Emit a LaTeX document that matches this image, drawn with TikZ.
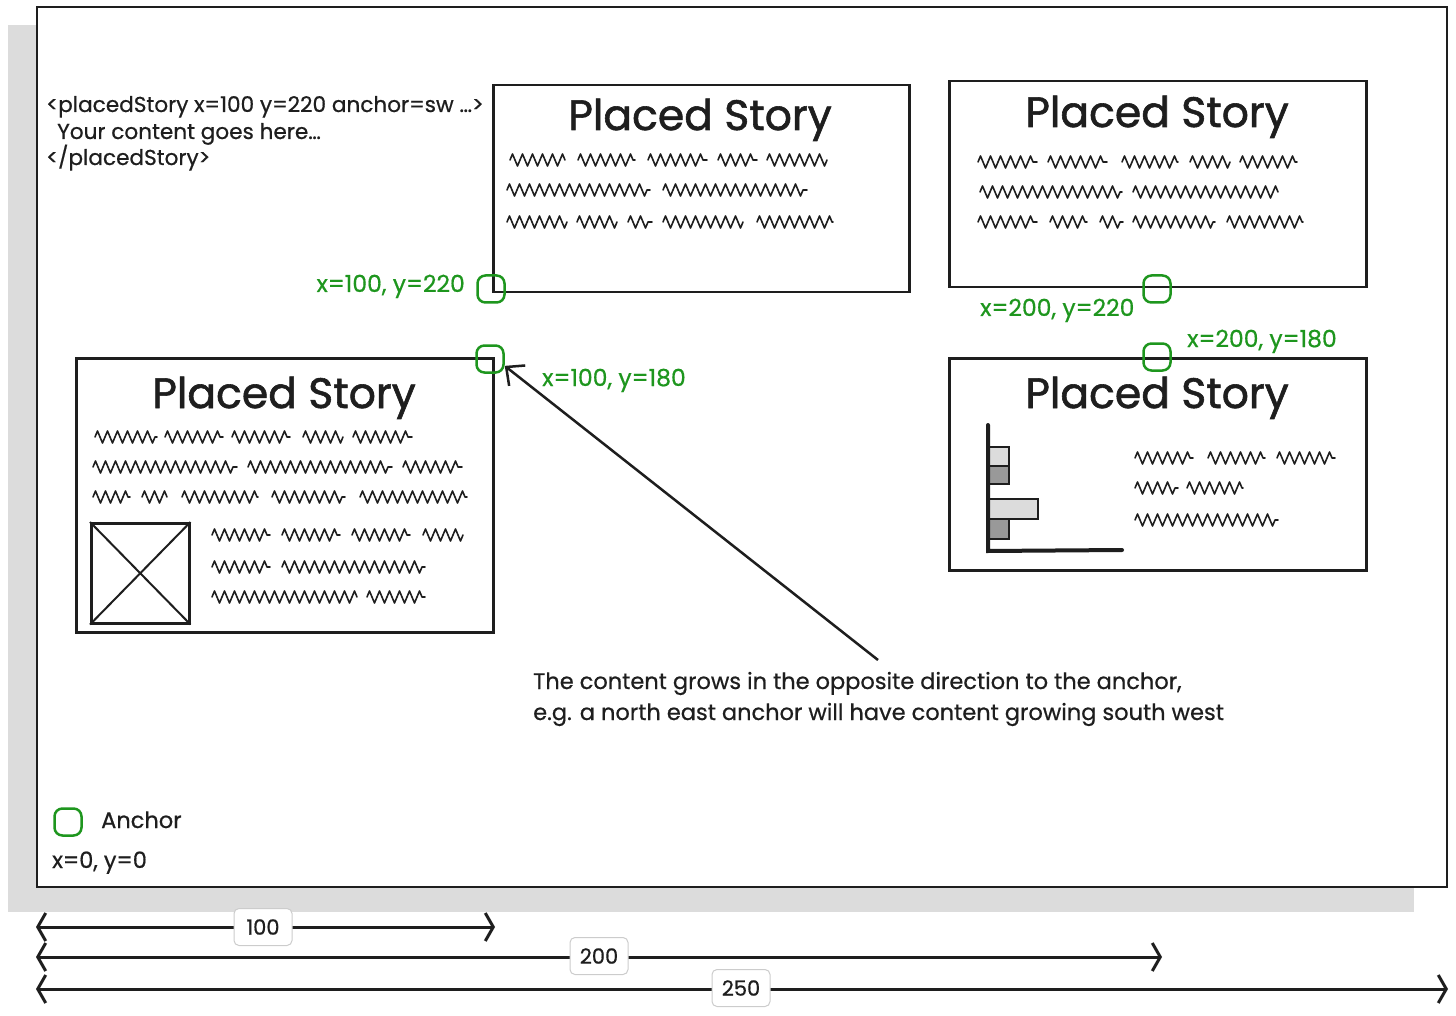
\documentclass[tikz,border=0pt]{standalone}
\usepackage{fontspec}
\setmainfont{Poppins}[FakeBold=0.6]
\newfontfamily\titlefont{Poppins}[FakeBold=1.4]
\usetikzlibrary{arrows.meta,decorations.pathmorphing}
\definecolor{ink}{HTML}{1E1E1E}
\definecolor{agreen}{RGB}{30,150,30}
\definecolor{shadowgray}{HTML}{DCDCDC}
\definecolor{lbar}{HTML}{DCDCDC}
\definecolor{dbar}{HTML}{999999}
\definecolor{lblborder}{HTML}{CCCCCC}
\begin{document}
\begin{tikzpicture}[x=1pt,y=-1pt,
  frame/.style={draw=ink, line width=2.2pt, fill=white, inner sep=0pt},
  story/.style={draw=ink, line width=2.5pt, fill=white, inner sep=0pt, anchor=north west},
  anch/.style={draw=agreen, line width=2.5pt, rounded corners=8pt, minimum width=27pt, minimum height=27pt, inner sep=0pt},
  glabel/.style={text=agreen, font=\fontsize{23.5}{27}\selectfont, inner sep=0pt},
  title/.style={text=ink, font=\titlefont\fontsize{42.5}{48}\selectfont, inner sep=0pt, anchor=base},
  body/.style={text=ink, font=\fontsize{22.5}{26}\selectfont, inner sep=0pt, anchor=base west},
  code/.style={text=ink, font=\fontsize{21.6}{26}\selectfont, inner sep=0pt, anchor=base west},
  scrib/.style={draw=ink, line width=1.6pt, line join=round, line cap=round, decorate, decoration={zigzag, segment length=10pt, amplitude=6pt}},
  dimline/.style={draw=ink, line width=3pt, {Straight Barb[length=8pt,width=28pt]}-{Straight Barb[length=8pt,width=28pt]}},
  dimlabel/.style={draw=lblborder, fill=white, rounded corners=5pt, line width=1pt, text=ink, font=\fontsize{21}{25}\selectfont, minimum height=37pt, minimum width=58pt, inner sep=3pt},
  barl/.style={draw=ink, line width=2pt, fill=lbar},
  bard/.style={draw=ink, line width=2pt, fill=dbar},
  ptr/.style={draw=ink, line width=2.5pt, -{Straight Barb[length=14pt,width=26pt]}}
]
\useasboundingbox (0,0) rectangle (1456,1016);
% shadow and page
\fill[shadowgray] (8,25) rectangle (1414,912);
\node[frame, anchor=north west, minimum width=1410pt, minimum height=880pt] (page) at (36,6) {};

% code text
\node[code] (code1) at (46,112) {<placedStory x=100 y=220 anchor=sw …>};
\node[code] (code2) at (57,139) {Your content goes here…};
\node[code] (code3) at (46,165) {</placedStory>};

% story boxes
\node[story, minimum width=416pt, minimum height=207pt] (s1) at (492,84) {};
\node[story, minimum width=417pt, minimum height=206pt] (s2) at (948,80) {};
\node[story, minimum width=417pt, minimum height=274pt] (s3) at (75,357) {};
\node[story, minimum width=417pt, minimum height=212pt] (s4) at (948,357) {};

\node[title] (t1) at (700,130) {Placed Story};
\node[title] (t2) at (1157,127) {Placed Story};
\node[title] (t3) at (284,408) {Placed Story};
\node[title] (t4) at (1157,408) {Placed Story};

% scribbles box 1
\foreach \a/\b/\y in {510/565/160,578/635/160,648/707/160,718/757/160,767/827/160,
  507/650/190,663/807/190,
  507/567/222,577/617/222,628/652/222,663/743/222,757/833/222}
  \draw[scrib] (\a,\y) -- (\b,\y);
% scribbles box 2
\foreach \a/\b/\y in {978/1037/162,1048/1107/162,1122/1178/162,1190/1230/162,1240/1297/162,
  980/1122/192,1133/1278/192,
  978/1037/222,1050/1087/222,1100/1123/222,1133/1215/222,1227/1303/222}
  \draw[scrib] (\a,\y) -- (\b,\y);
% scribbles box 3
\foreach \a/\b/\y in {95/157/437,165/223/437,232/290/437,303/343/437,353/412/437,
  93/237/467,248/392/467,403/462/467,
  93/130/497,142/167/497,182/258/497,272/345/497,360/467/497,
  212/270/535,282/340/535,352/410/535,423/463/535,
  212/270/567,282/425/567,
  212/357/597,367/425/597}
  \draw[scrib] (\a,\y) -- (\b,\y);
% scribbles box 4
\foreach \a/\b/\y in {1135/1193/458,1208/1265/458,1277/1335/458,
  1135/1178/488,1187/1243/488,
  1135/1278/520}
  \draw[scrib] (\a,\y) -- (\b,\y);

% image placeholder
\node[draw=ink, line width=2.5pt, minimum width=98pt, minimum height=100pt, anchor=north west, inner sep=0pt] (img) at (90,522) {};
\draw[ink, line width=2pt] (img.north west) -- (img.south east) (img.north east) -- (img.south west);

% bar chart
\draw[barl] (988,447) rectangle (1009,466);
\draw[bard] (988,466) rectangle (1009,484);
\draw[barl] (988,499) rectangle (1038,519);
\draw[bard] (988,519) rectangle (1009,539);
\draw[ink, line width=4pt, line cap=round] (988,425) -- (988,551) -- (1122,550);

% anchors
\node[anch] (a1) at (491,289) {};
\node[anch] (a2) at (490,359) {};
\node[anch] (a3) at (1157,289) {};
\node[anch] (a4) at (1157,357) {};
\node[anch] (leg) at (68,822) {};

\node[glabel, anchor=base east] (l1) at (465,292) {x=100, y=220};
\node[glabel, anchor=base west] (l2) at (542,386) {x=100, y=180};
\node[glabel, anchor=base west] (l3) at (980,316) {x=200, y=220};
\node[glabel, anchor=base west] (l4) at (1187,347) {x=200, y=180};

% legend
\node[body] (legtxt) at (101,828) {Anchor};
\node[body] (origin) at (52,868) {x=0, y=0};

% explanation
\node[body] (exp1) at (533,689) {The content grows in the opposite direction to the anchor,};
\node[body] (exp2) at (533,720) {e.g. a north east anchor will have content growing south west};
\coordinate (tail) at (878,660);
\draw[ptr] (tail) -- (a2.-25);

% dimensions
\coordinate (o1) at (36,927);
\coordinate (e1) at (495,927);
\coordinate (o2) at (36,957);
\coordinate (e2) at (1162,957);
\coordinate (o3) at (36,989);
\coordinate (e3) at (1448,989);
\draw[dimline] (o1) -- (e1);
\draw[dimline] (o2) -- (e2);
\draw[dimline] (o3) -- (e3);
\node[dimlabel] (n100) at (263,927) {100};
\node[dimlabel] (n200) at (599,956) {200};
\node[dimlabel] (n250) at (741,988) {250};
\end{tikzpicture}
\end{document}
